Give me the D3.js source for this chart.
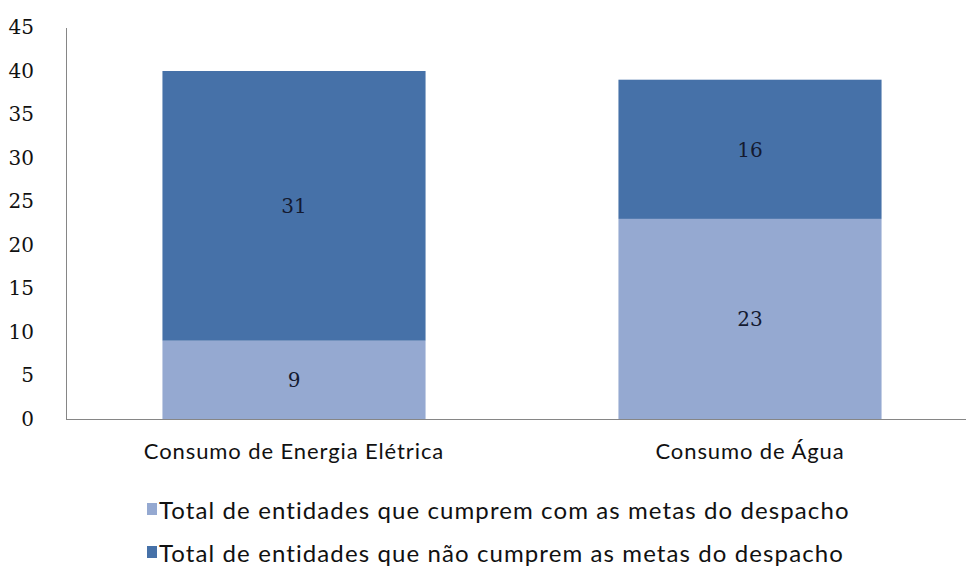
<!DOCTYPE html>
<html>
<head>
<meta charset="utf-8">
<script src="https://cdn.jsdelivr.net/npm/d3@7"></script>
<style>
  body { margin: 0; background: #fff; }
  svg { display: block; }
</style>
</head>
<body>
<div id="chart"></div>
<script>
// data
var categories = ["Consumo de Energia Elétrica", "Consumo de Água"];
var cumprem    = [9, 23];
var naoCumprem = [31, 16];
var seriesNames = [
    "Total de entidades que cumprem com as metas do despacho",
    "Total de entidades que não cumprem as metas do despacho"
];
var yTicks = [0, 5, 10, 15, 20, 25, 30, 35, 40, 45];

// dimensions
var svgWidth = 966, svgHeight = 569;
var plot = { left: 66, right: 978, top: 27.5, bottom: 419 };
var colors = ["#95a9d1", "#4671a8"];

var svg = d3.select("#chart").append("svg")
    .attr("width", svgWidth)
    .attr("height", svgHeight);

// scales
var x = d3.scaleBand().domain(categories).range([plot.left, plot.right])
    .paddingInner(0.423).paddingOuter(0.2115);
var y = d3.scaleLinear().domain([0, 45]).range([plot.bottom, plot.top]);

// stacked rows
var rows = categories.map(function(c, i) {
    return { cat: c, s0: cumprem[i], s1: naoCumprem[i] };
});
var stack = d3.stack().keys(["s0", "s1"])(rows);

var layers = svg.selectAll(".layer")
    .data(stack)
    .enter().append("g")
        .attr("class", "layer")
        .attr("fill", function(d, i) { return colors[i]; });

layers.selectAll("rect")
    .data(function(d) { return d; })
    .enter().append("rect")
        .attr("x", function(d) { return x(d.data.cat); })
        .attr("width", x.bandwidth())
        .attr("y", function(d) { return y(d[1]); })
        .attr("height", function(d) { return y(d[0]) - y(d[1]); });

// value labels
layers.selectAll("text")
    .data(function(d) { return d; })
    .enter().append("text")
        .attr("x", function(d) { return x(d.data.cat) + x.bandwidth() / 2; })
        .attr("y", function(d) { return (y(d[0]) + y(d[1])) / 2; })
        .attr("dy", "0.36em")
        .attr("text-anchor", "middle")
        .attr("fill", "#141a30")
        .style("font-family", "'DejaVu Serif', 'Liberation Serif', serif")
        .style("font-size", "20px")
        .text(function(d) { return d[1] - d[0]; });

// y axis
var yAxis = d3.axisLeft(y).tickValues(yTicks).tickSize(0).tickPadding(32);
var gy = svg.append("g")
    .attr("transform", "translate(" + plot.left + ",0)")
    .call(yAxis);
gy.select(".domain").attr("stroke", "#868686");
gy.selectAll("text")
    .attr("fill", "#111")
    .style("font-family", "'DejaVu Serif', 'Liberation Serif', serif")
    .style("font-size", "20px");

// x axis
var xAxis = d3.axisBottom(x).tickSize(0).tickPadding(24);
var gx = svg.append("g")
    .attr("transform", "translate(0," + plot.bottom + ")")
    .call(xAxis);
gx.select(".domain").attr("stroke", "#868686").attr("d", "M" + plot.left + ",0.5H" + svgWidth);
gx.selectAll("text")
    .attr("fill", "#111")
    .style("font-family", "Lato, 'Open Sans', sans-serif")
    .style("font-size", "22px")
    .style("letter-spacing", "0.9px");

// legend
var legend = svg.selectAll(".legend")
    .data(seriesNames)
    .enter().append("g")
        .attr("class", "legend")
        .attr("transform", function(d, i) { return "translate(147," + (510 + i * 43) + ")"; });

legend.append("rect")
    .attr("x", 0).attr("y", -7)
    .attr("width", 10).attr("height", 12)
    .attr("fill", function(d, i) { return colors[i]; });

legend.append("text")
    .attr("x", 12)
    .attr("dy", "0.36em")
    .attr("fill", "#111")
    .style("font-family", "Lato, 'Open Sans', sans-serif")
    .style("font-size", "24px")
    .style("letter-spacing", "1.1px")
    .text(function(d) { return d; });
</script>
</body>
</html>
